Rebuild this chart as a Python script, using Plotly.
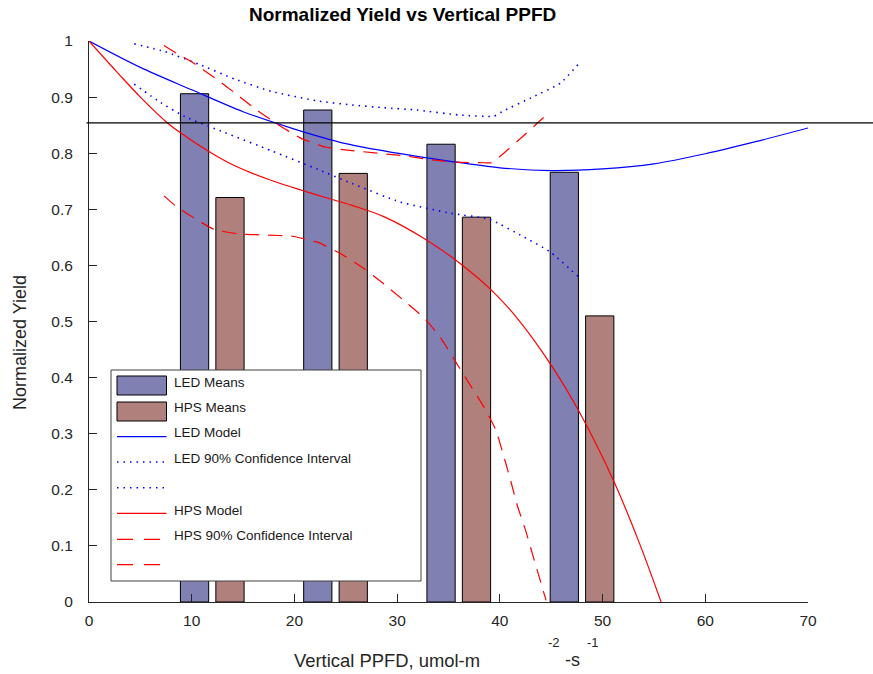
import plotly.graph_objects as go

# ---- data -------------------------------------------------------------
bar_ppfd = [12, 24, 36, 48]
led_means = [0.906, 0.877, 0.816, 0.766]
hps_means = [0.721, 0.764, 0.686, 0.510]

led_model_x = [0, 5, 10, 15, 20, 25, 30, 35, 40, 45, 50, 55, 60, 65, 70]
led_model_y = [1.000, 0.953, 0.913, 0.874, 0.843, 0.817, 0.800, 0.786, 0.774,
               0.769, 0.772, 0.781, 0.799, 0.821, 0.845]

led_ci_up_x = [4.4, 7.4, 10.65, 14.2, 17.8, 22.3, 25.6, 28.7, 31.9, 36.1, 39.4,
               40.3, 43.3, 45.9, 47.7]
led_ci_up_y = [0.995, 0.981, 0.959, 0.932, 0.910, 0.893, 0.886, 0.881, 0.877,
               0.868, 0.866, 0.875, 0.901, 0.925, 0.960]

led_ci_lo_x = [4.4, 7.0, 9.35, 13.2, 17.8, 22.3, 25.6, 30.3, 35.2, 39.0, 42.3,
               44.9, 47.7]
led_ci_lo_y = [0.923, 0.890, 0.865, 0.837, 0.804, 0.771, 0.746, 0.713, 0.693,
               0.682, 0.651, 0.624, 0.579]

hps_model_x = [0, 2.86, 5.0, 7.7, 9.5, 11.6, 13.5, 15.8, 18.0, 20.7, 23.0, 25.6,
               28.7, 32.9, 36.1, 39.0, 41.5, 44.9, 47.7, 51.05, 53.5, 55.7]
hps_model_y = [1.000, 0.942, 0.900, 0.853, 0.829, 0.804, 0.784, 0.765, 0.750,
               0.734, 0.721, 0.707, 0.687, 0.645, 0.604, 0.559, 0.510, 0.425,
               0.340, 0.217, 0.109, 0.000]

hps_ci_up_x = [7.3, 8.54, 10.06, 12.5, 14.3, 16.4, 18.5, 20.7, 23.0, 25.4, 30.8,
               33.4, 35.9, 38.5, 39.2, 40.0, 42.55, 44.7]
hps_ci_up_y = [0.992, 0.978, 0.962, 0.931, 0.906, 0.876, 0.850, 0.826, 0.811,
               0.805, 0.795, 0.788, 0.784, 0.783, 0.783, 0.794, 0.835, 0.871]

hps_ci_lo_x = [7.3, 8.44, 9.93, 12.2, 14.7, 17.2, 19.8, 22.3, 24.6, 26.8, 28.5,
               30.8, 32.7, 34.3, 35.7, 37.0, 38.4, 39.6, 40.3, 41.0, 41.7, 42.5,
               43.2, 44.0, 44.5]
hps_ci_lo_y = [0.724, 0.706, 0.688, 0.664, 0.656, 0.654, 0.652, 0.641, 0.620,
               0.594, 0.570, 0.535, 0.505, 0.469, 0.428, 0.390, 0.349, 0.307,
               0.265, 0.220, 0.172, 0.128, 0.084, 0.034, 0.003]

reference_level = 0.854

x_ticks = [0, 10, 20, 30, 40, 50, 60, 70]
y_ticks = [0, 0.1, 0.2, 0.3, 0.4, 0.5, 0.6, 0.7, 0.8, 0.9, 1]

legend_labels = ["LED Means", "HPS Means", "LED Model", "LED 90% Confidence Interval",
                 "", "HPS Model", "HPS 90% Confidence Interval", ""]

# ---- styling ----------------------------------------------------------
FONT = "Liberation Sans, Arial, Helvetica, sans-serif"
AX = "#262626"
LED_FILL = "#8080B2"
HPS_FILL = "#B0807C"
BLUE = "#0000FF"
RED = "#FF0000"
DOT = "1.5px,5px"
DASH = "14px,9px"
LEG_DASH = "16px,11px"

W, H = 873, 674
ML, MR, MT, MB = 89, 65, 41, 72
PW, PH = W - ML - MR, H - MT - MB


def px(X):
    return (X - ML) / PW


def py(Y):
    return (H - MB - Y) / PH


fig = go.Figure()

fig.add_trace(go.Bar(x=bar_ppfd, y=led_means, width=2.75, offset=-3.1,
                     marker=dict(color=LED_FILL, line=dict(color="black", width=1)),
                     showlegend=False))
fig.add_trace(go.Bar(x=bar_ppfd, y=hps_means, width=2.75, offset=0.35,
                     marker=dict(color=HPS_FILL, line=dict(color="black", width=1)),
                     showlegend=False))


def curve(xs, ys, color, dash, smooth=0.6, width=1.2):
    fig.add_trace(go.Scatter(x=xs, y=ys, mode="lines",
                             line=dict(color=color, width=width, dash=dash,
                                       shape="spline", smoothing=smooth),
                             showlegend=False, hoverinfo="skip"))


curve(led_model_x, led_model_y, BLUE, "solid", 0.9)
curve(led_ci_up_x, led_ci_up_y, BLUE, DOT, 0.5, 1.6)
curve(led_ci_lo_x, led_ci_lo_y, BLUE, DOT, 0.5, 1.6)
curve(hps_model_x, hps_model_y, RED, "solid", 1.0)
curve(hps_ci_up_x, hps_ci_up_y, RED, DASH, 0.5)
curve(hps_ci_lo_x, hps_ci_lo_y, RED, DASH, 0.5)

shapes = []
# horizontal reference line, running past the right end of the axis
shapes.append(dict(type="line", xref="paper", yref="y", x0=px(86.5), x1=px(875),
                   y0=reference_level, y1=reference_level,
                   line=dict(color="black", width=1.3), layer="above"))

# legend box
LX0, LX1, LY0, LY1 = 111, 421, 370, 581
shapes.append(dict(type="rect", xref="paper", yref="paper",
                   x0=px(LX0), x1=px(LX1), y0=py(LY1), y1=py(LY0),
                   fillcolor="white", line=dict(color="#404040", width=1), layer="above"))

row_y = [385.5, 411.5, 436.7, 462, 487.7, 513.3, 539.3, 564.7]
text_y = [382.7, 407.7, 432.7, 458.7, 485, 510.3, 535.3, 561]
sw_x0, sw_x1 = 117, 166.5
swatch_styles = [("bar", LED_FILL), ("bar", HPS_FILL),
                 ("line", BLUE, "solid"), ("line", BLUE, DOT), ("line", BLUE, DOT),
                 ("line", RED, "solid"), ("line", RED, LEG_DASH), ("line", RED, LEG_DASH)]
for yy, st in zip(row_y, swatch_styles):
    if st[0] == "bar":
        shapes.append(dict(type="rect", xref="paper", yref="paper",
                           x0=px(sw_x0), x1=px(sw_x1), y0=py(yy + 9.5), y1=py(yy - 9.5),
                           fillcolor=st[1], line=dict(color="black", width=1), layer="above"))
    else:
        x1 = 160.5 if st[2] == LEG_DASH else sw_x1
        shapes.append(dict(type="line", xref="paper", yref="paper",
                           x0=px(sw_x0), x1=px(x1), y0=py(yy), y1=py(yy),
                           line=dict(color=st[1], width=1.6 if st[2] == DOT else 1.2,
                                     dash=st[2]), layer="above"))

annotations = []
for ty, lab in zip(text_y, legend_labels):
    if lab:
        annotations.append(dict(text=lab, xref="paper", yref="paper", x=px(172), y=py(ty),
                                xanchor="left", yanchor="middle", showarrow=False,
                                font=dict(family=FONT, size=13.5, color="#1a1a1a")))

# title and axis labels
annotations.append(dict(text="<b>Normalized Yield vs Vertical PPFD</b>", xref="paper",
                        yref="paper", x=px(247), y=py(15), xanchor="left",
                        yanchor="middle", showarrow=False,
                        font=dict(family=FONT, size=19, color="black")))
annotations.append(dict(text="Normalized Yield", xref="paper", yref="paper",
                        x=px(20), y=py(343), textangle=-90, xanchor="center",
                        yanchor="middle", showarrow=False,
                        font=dict(family=FONT, size=18, color=AX)))
annotations.append(dict(text="Vertical PPFD, umol-m", xref="paper", yref="paper",
                        x=px(387), y=py(660), xanchor="center", yanchor="middle",
                        showarrow=False, font=dict(family=FONT, size=18.4, color=AX)))
annotations.append(dict(text="-s", xref="paper", yref="paper", x=px(572.5), y=py(660),
                        xanchor="center", yanchor="middle", showarrow=False,
                        font=dict(family=FONT, size=18, color=AX)))
for tx, sup in [(554, "-2"), (593, "-1")]:
    annotations.append(dict(text=sup, xref="paper", yref="paper", x=px(tx), y=py(642),
                            xanchor="center", yanchor="middle", showarrow=False,
                            font=dict(family=FONT, size=13, color=AX)))

fig.update_layout(
    width=W, height=H,
    margin=dict(l=ML, r=MR, t=MT, b=MB, pad=0),
    paper_bgcolor="white", plot_bgcolor="white",
    barmode="overlay",
    showlegend=False,
    shapes=shapes,
    annotations=annotations,
    xaxis=dict(range=[0, 70], tickvals=x_ticks, ticks="inside", ticklen=8,
               tickcolor=AX, tickwidth=1, showline=True, linecolor=AX, linewidth=1,
               showgrid=False, zeroline=False, ticklabelstandoff=4,
               tickfont=dict(family=FONT, size=15.5, color=AX)),
    yaxis=dict(range=[0, 1], tickvals=y_ticks, ticks="inside", ticklen=8,
               tickcolor=AX, tickwidth=1, showline=True, linecolor=AX, linewidth=1,
               showgrid=False, zeroline=False, ticklabelstandoff=12,
               tickfont=dict(family=FONT, size=15.5, color=AX)),
)

fig.write_html("out.html")
